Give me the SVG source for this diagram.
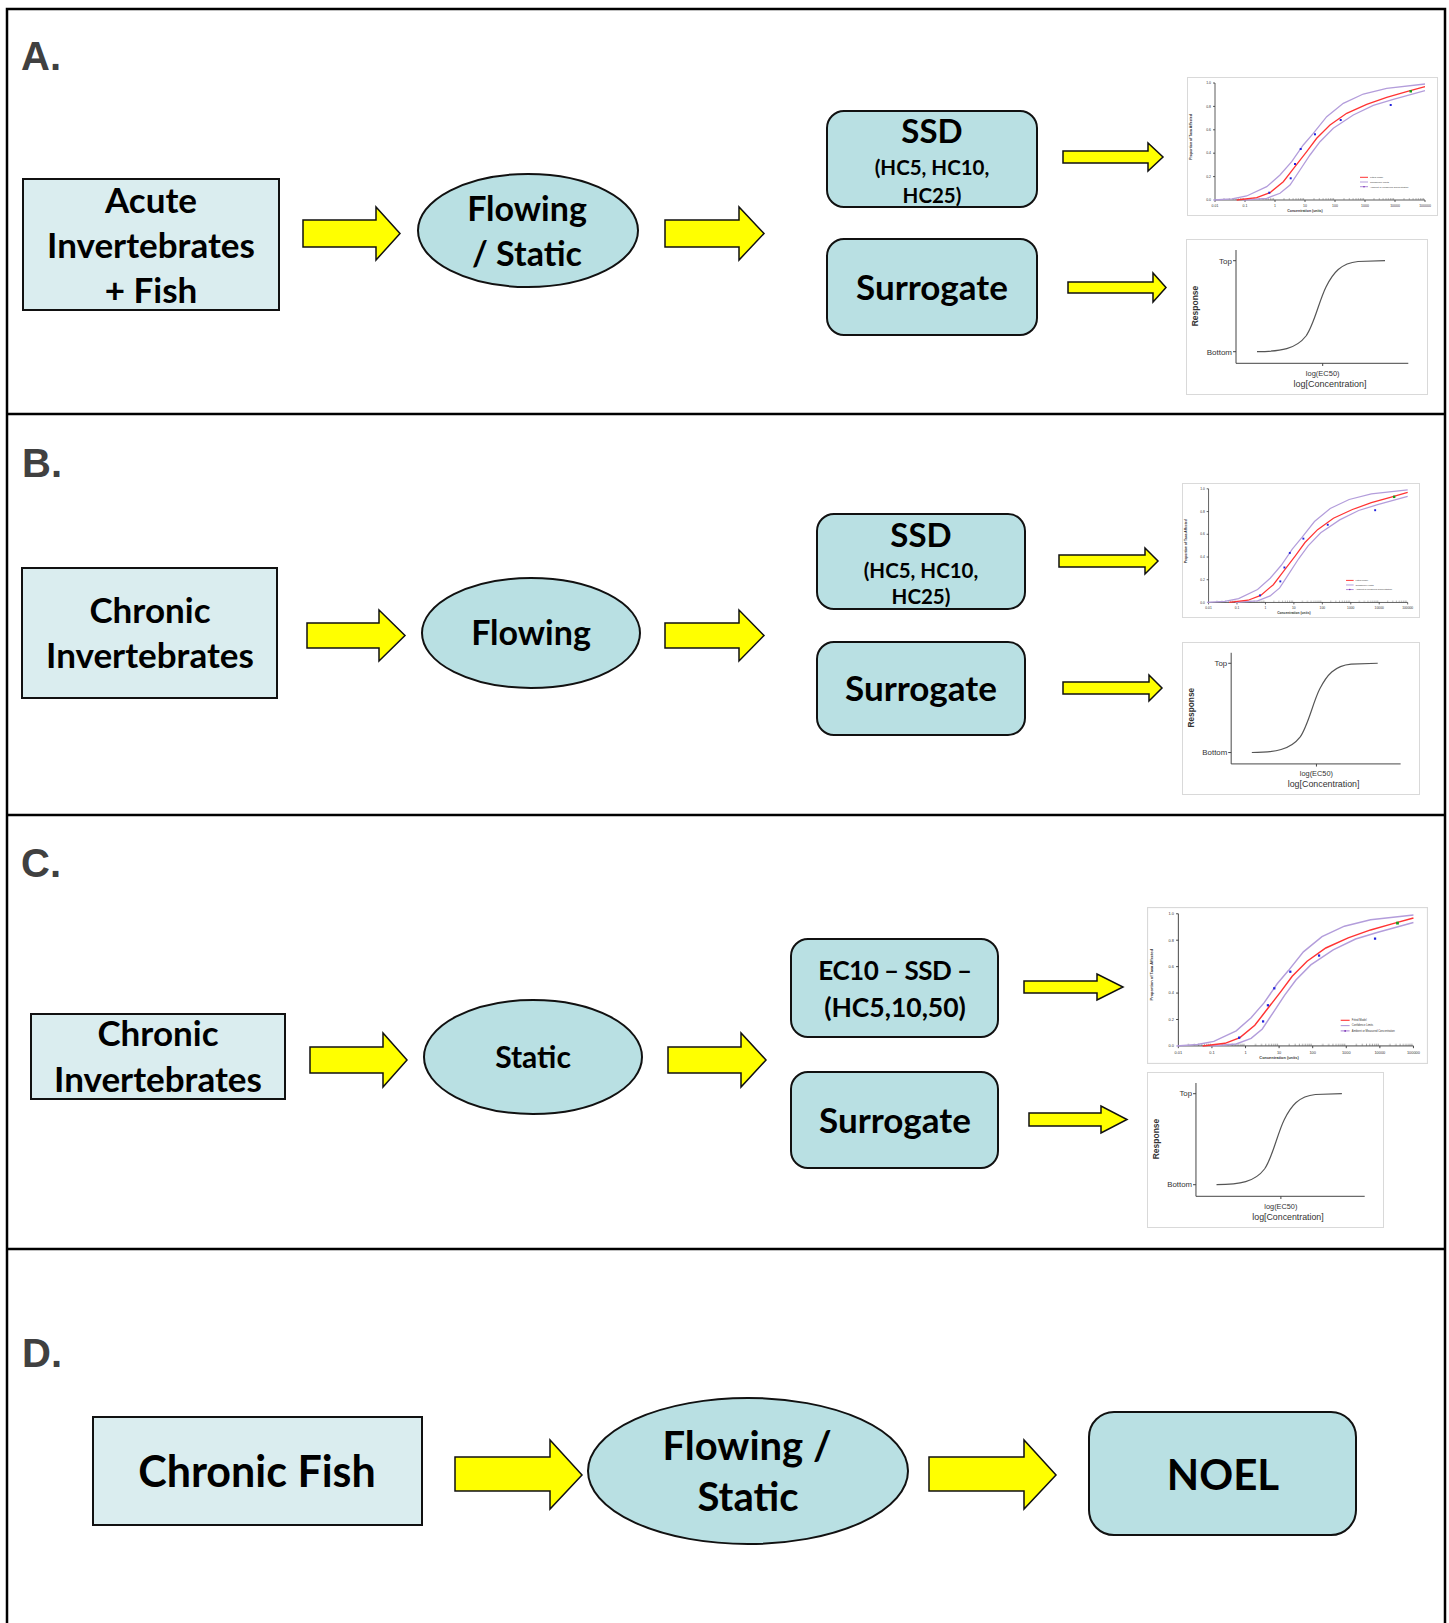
<svg xmlns="http://www.w3.org/2000/svg" xmlns:xlink="http://www.w3.org/1999/xlink" width="1449" height="1623" viewBox="0 0 1449 1623">
<style>
.frame{fill:none;stroke:#000;stroke-width:2.5}
.lbl{font-family:"Liberation Sans",Arial,sans-serif;font-weight:bold;font-size:40px;fill:#404040}
.inbox{fill:#daedef;stroke:#111;stroke-width:2}
.proc{fill:#b9e0e3;stroke:#111;stroke-width:2}
.t{font-family:Lato,"Open Sans",sans-serif;font-weight:bold;fill:#000;text-anchor:middle}
.arr{fill:#ffff00;stroke:#111;stroke-width:1.5}
.ax{font-family:"Liberation Sans",Arial,sans-serif;fill:#333}
.axl{fill:none;stroke:#333;stroke-width:0.8}
</style>
<defs>
  <pattern id="minorTicks" patternUnits="userSpaceOnUse" x="28" y="121" width="30" height="2">
    <path d="M9,0V2M14.3,0V2M18.1,0V2M21,0V2M23.3,0V2M25.4,0V2M27.1,0V2M28.6,0V2" stroke="#555" stroke-width="0.4"/>
  </pattern>
  <symbol id="ssdChart" viewBox="0 0 251 139" preserveAspectRatio="none">
    <rect x="0.5" y="0.5" width="250" height="138" fill="#fff" stroke="#d9d9d9"/>
    <path class="axl" d="M28,6V123H238M26,6H28M26,29.4H28M26,52.8H28M26,76.2H28M26,99.6H28M28,123V125M58,123V125M88,123V125M118,123V125M148,123V125M178,123V125M208,123V125M238,123V125"/>
    <rect x="28" y="121" width="210" height="2" fill="url(#minorTicks)"/>
    <g class="ax" font-size="3.5" text-anchor="end">
      <text x="24" y="7.2">1.0</text><text x="24" y="30.6">0.8</text><text x="24" y="54">0.6</text><text x="24" y="77.4">0.4</text><text x="24" y="100.8">0.2</text><text x="24" y="124.2">0.0</text>
    </g>
    <g class="ax" font-size="3.5" text-anchor="middle">
      <text x="28" y="130">0.01</text><text x="58" y="130">0.1</text><text x="88" y="130">1</text><text x="118" y="130">10</text><text x="148" y="130">100</text><text x="178" y="130">1000</text><text x="208" y="130">10000</text><text x="238" y="130">100000</text>
      <text x="118" y="135" font-weight="bold">Concentration (units)</text>
      <text transform="translate(5,60) rotate(-90)" font-weight="bold">Proportion of Taxa Affected</text>
    </g>
    <polyline fill="none" stroke="#b39ddb" stroke-width="1.3" points="26.3,123 45,121.8 59.7,119 79.7,109.7 93,98 104.7,84.7 116.3,68 126.3,56.3 139.7,39.7 156.3,26.3 176.3,17 199.7,11.3 238,7"/>
    <polyline fill="none" stroke="#b39ddb" stroke-width="1.3" points="56.3,123 79.7,121.3 93,116.3 103,108 113,93 123,78 133,64.7 146.3,51.3 166.3,38 186.3,28.3 206.3,22.3 238,13.7"/>
    <polyline fill="none" stroke="#ff3333" stroke-width="1.3" points="49.7,123 69.7,120.7 83,115.7 96.3,104.7 108,89.7 119.7,74.7 129.7,61.3 143,48 159.7,36.3 179.7,27.3 199.7,20.3 219.7,14.7 238,9.7"/>
    <g fill="#2222dd">
      <rect x="81.3" y="114.7" width="2" height="2"/><rect x="102.7" y="100.3" width="2" height="2"/><rect x="107" y="86" width="2" height="2"/><rect x="112.7" y="71" width="2" height="2"/><rect x="127" y="56.3" width="2" height="2"/><rect x="152.7" y="42" width="2" height="2"/><rect x="202.7" y="27" width="2" height="2"/>
    </g>
    <rect x="222.5" y="13" width="2.5" height="2.5" fill="#1a9a1a"/>
    <path d="M173,100.3H181" stroke="#ff3333" stroke-width="1"/>
    <path d="M173,105H181" stroke="#b39ddb" stroke-width="1"/>
    <path d="M173,109.7H181" stroke="#9c6fd0" stroke-width="0.8"/>
    <circle cx="177" cy="109.7" r="0.8" fill="#7a2fb0"/>
    <g class="ax" font-size="2.4">
      <text x="183" y="101.1">Fitted Model</text>
      <text x="183" y="105.8">Confidence Limits</text>
      <text x="183" y="110.5">Ambient or Measured Concentration</text>
    </g>
  </symbol>
  <symbol id="sigChart" viewBox="0 0 242 156" preserveAspectRatio="none">
    <rect x="0.5" y="0.5" width="241" height="155" fill="#fff" stroke="#d9d9d9"/>
    <path d="M50,11V124.3H222.3M47,21.7H50M47,112.7H50M136.7,124.3V127" fill="none" stroke="#444" stroke-width="1"/>
    <path d="M71,112.7C95,112.5 110,110 120,97C128,86 133,62 140,48C147,34 155,24 172,22.5L199,21.7" fill="none" stroke="#555" stroke-width="1.2"/>
    <g class="ax" font-size="8" text-anchor="end">
      <text x="46" y="24.5">Top</text>
      <text x="46" y="115.5">Bottom</text>
    </g>
    <g class="ax" text-anchor="middle">
      <text x="136.7" y="137" font-size="7.5">log(EC50)</text>
      <text x="144" y="148.3" font-size="9">log[Concentration]</text>
      <text transform="translate(12,67) rotate(-90)" font-size="8.5" font-weight="bold">Response</text>
    </g>
  </symbol>
</defs>

<g id="frame">
  <path class="frame" d="M7,1623V9H1445V1623M7,414H1445M7,815H1445M7,1249H1445"/>
  <text class="lbl" x="21" y="70">A.</text>
  <text class="lbl" x="22" y="477">B.</text>
  <text class="lbl" x="21" y="877">C.</text>
  <text class="lbl" x="22" y="1367">D.</text>
</g>

<g id="connectors">
  <path class="arr" d="M303,220H376V207L400,233.5L376,260V247H303Z"/>
  <path class="arr" d="M665,220H739V207L764,233.5L739,260V247H665Z"/>
  <path class="arr" d="M1063,151H1148V143L1163,157L1148,171V163H1063Z"/>
  <path class="arr" d="M1068,282H1153V273L1166,287.5L1153,302V293H1068Z"/>
  <path class="arr" d="M307,623H379V610L405,635.5L379,661V648H307Z"/>
  <path class="arr" d="M665,623H739V610L764,635.5L739,661V648H665Z"/>
  <path class="arr" d="M1059,555H1145V548L1158,561L1145,574V567H1059Z"/>
  <path class="arr" d="M1063,682H1149V675L1162,688L1149,701V694H1063Z"/>
  <path class="arr" d="M310,1047H383V1033L407,1060L383,1087V1073H310Z"/>
  <path class="arr" d="M668,1047H741V1033L766,1060L741,1087V1073H668Z"/>
  <path class="arr" d="M1024,981H1097V974L1123,987L1097,1000V993H1024Z"/>
  <path class="arr" d="M1029,1113H1101V1106L1127,1119.5L1101,1133V1126H1029Z"/>
  <path class="arr" d="M455,1457H550V1440L582,1475L550,1509V1491H455Z"/>
  <path class="arr" d="M929,1457H1024V1440L1056,1475L1024,1509V1491H929Z"/>
</g>

<g id="nodeA1"><rect class="inbox" x="23" y="179" width="256" height="131"/>
  <text class="t" x="151" y="213" font-size="35">Acute</text>
  <text class="t" x="151" y="258" font-size="35">Invertebrates</text>
  <text class="t" x="151" y="303" font-size="35">+ Fish</text></g>
<g id="nodeA2"><ellipse class="proc" cx="528" cy="230.5" rx="110" ry="56.5"/>
  <text class="t" x="527" y="221" font-size="34">Flowing</text>
  <text class="t" x="527" y="266" font-size="34">/ Static</text></g>
<g id="nodeA3"><rect class="proc" x="827" y="111" width="210" height="96" rx="17"/>
  <text class="t" x="932" y="143" font-size="33">SSD</text>
  <text class="t" x="932" y="175" font-size="20.5">(HC5, HC10,</text>
  <text class="t" x="932" y="203" font-size="20.5">HC25)</text></g>
<g id="nodeA4"><rect class="proc" x="827" y="239" width="210" height="96" rx="17"/>
  <text class="t" x="932" y="300" font-size="35">Surrogate</text></g>
<g id="chartA1"><use xlink:href="#ssdChart" href="#ssdChart" x="1187" y="77" width="251" height="139"/></g>
<g id="chartA2"><use xlink:href="#sigChart" href="#sigChart" x="1186" y="239" width="242" height="156"/></g>

<g id="nodeB1"><rect class="inbox" x="22" y="568" width="255" height="130"/>
  <text class="t" x="150" y="623" font-size="35">Chronic</text>
  <text class="t" x="150" y="668" font-size="35">Invertebrates</text></g>
<g id="nodeB2"><ellipse class="proc" cx="531" cy="633" rx="109" ry="55"/>
  <text class="t" x="531" y="645" font-size="34">Flowing</text></g>
<g id="nodeB3"><rect class="proc" x="817" y="514" width="208" height="95" rx="17"/>
  <text class="t" x="921" y="547" font-size="33">SSD</text>
  <text class="t" x="921" y="578" font-size="20.5">(HC5, HC10,</text>
  <text class="t" x="921" y="604" font-size="20.5">HC25)</text></g>
<g id="nodeB4"><rect class="proc" x="817" y="642" width="208" height="93" rx="17"/>
  <text class="t" x="921" y="701" font-size="35">Surrogate</text></g>
<g id="chartB1"><use xlink:href="#ssdChart" href="#ssdChart" x="1182" y="483" width="238" height="135"/></g>
<g id="chartB2"><use xlink:href="#sigChart" href="#sigChart" x="1182" y="642" width="238" height="153"/></g>

<g id="nodeC1"><rect class="inbox" x="31" y="1014" width="254" height="85"/>
  <text class="t" x="158" y="1046" font-size="35">Chronic</text>
  <text class="t" x="158" y="1092" font-size="35">Invertebrates</text></g>
<g id="nodeC2"><ellipse class="proc" cx="533" cy="1057" rx="109" ry="57"/>
  <text class="t" x="533" y="1068" font-size="30">Static</text></g>
<g id="nodeC3"><rect class="proc" x="791" y="939" width="207" height="98" rx="17"/>
  <text class="t" x="895" y="980" font-size="26" letter-spacing="-0.5">EC10 – SSD –</text>
  <text class="t" x="895" y="1017" font-size="26.5">(HC5,10,50)</text></g>
<g id="nodeC4"><rect class="proc" x="791" y="1072" width="207" height="96" rx="17"/>
  <text class="t" x="895" y="1133" font-size="35">Surrogate</text></g>
<g id="chartC1"><use xlink:href="#ssdChart" href="#ssdChart" x="1147" y="907" width="281" height="157"/></g>
<g id="chartC2"><use xlink:href="#sigChart" href="#sigChart" x="1147" y="1072" width="237" height="156"/></g>

<g id="nodeD1"><rect class="inbox" x="93" y="1417" width="329" height="108"/>
  <text class="t" x="257" y="1487" font-size="43">Chronic Fish</text></g>
<g id="nodeD2"><ellipse class="proc" cx="748" cy="1471" rx="160" ry="73"/>
  <text class="t" x="747" y="1460" font-size="40">Flowing /</text>
  <text class="t" x="748" y="1511" font-size="40">Static</text></g>
<g id="nodeD3"><rect class="proc" x="1089" y="1412" width="267" height="123" rx="25"/>
  <text class="t" x="1223" y="1490" font-size="42">NOEL</text></g>
</svg>
